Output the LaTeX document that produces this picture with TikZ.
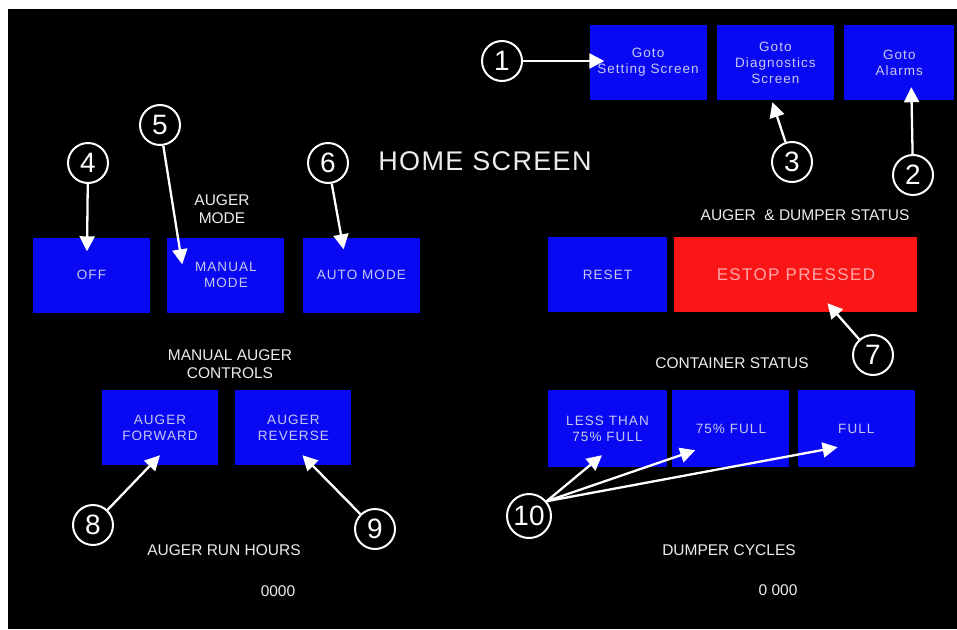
\documentclass[tikz,border=0pt]{standalone}
\usepackage{fontspec}
\setmainfont{Liberation Sans}
\newfontfamily\hmifont[LetterSpace=8]{Liberation Sans}
\newfontfamily\titlefont[LetterSpace=5]{Liberation Sans}
\usetikzlibrary{positioning}
\usetikzlibrary{arrows.meta}
\definecolor{hmiblue}{RGB}{8,8,242}
\definecolor{hmired}{RGB}{250,22,22}
\definecolor{btntext}{RGB}{200,200,238}
\definecolor{redtext}{RGB}{255,165,165}
\definecolor{lbltext}{RGB}{236,236,236}

\begin{document}
\begin{tikzpicture}[x=1pt,y=-1pt,
	btnode/.style={rectangle, fill=hmiblue, text=btntext, minimum width=117pt, minimum height=75pt, inner sep=0pt, align=center, font=\hmifont\fontsize{13.5}{16}\selectfont},
	lblnode/.style={text=lbltext, align=center, inner sep=0pt, font=\fontsize{15.5}{18}\selectfont},
	callnode/.style={circle, draw=white, fill=black, text=white, line width=2pt, minimum size=40pt, inner sep=0pt, font=\fontsize{28}{28}\selectfont},
	callarrow/.style={draw=white, line width=2.3pt, -{Triangle[length=15pt,width=15pt]}}]
	\fill[white] (0,0) rectangle (957,629);
	\fill[black] (8,9) rectangle (957,629);
	\node[btnode] (settings) at (648,62.5) {Goto\\Setting Screen};
	\node[btnode] (diag) [right=10pt of settings] {Goto\\Diagnostics\\Screen};
	\node[btnode, minimum width=110pt] (alarms) [right=10pt of diag] {Goto\\Alarms};
	\node[btnode] (off) at (91.5,275) {OFF};
	\node[btnode] (manual) [right=17pt of off] {MANUAL\\MODE};
	\node[btnode] (auto) [right=18pt of manual] {AUTO MODE};
	\node[btnode, minimum width=119pt] (reset) at (607.5,274.5) {RESET};
	\node[btnode, minimum width=243pt, fill=hmired, text=redtext, font=\hmifont\fontsize{17}{20}\selectfont] (estop) [right=7pt of reset] {ESTOP PRESSED};
	\node[btnode, minimum width=119pt, minimum height=77pt] (less) at (607.5,428.5) {LESS THAN\\75\% FULL};
	\node[btnode, minimum height=77pt] (threeq) [right=5pt of less] {75\% FULL};
	\node[btnode, minimum height=77pt] (full) [right=8pt of threeq] {FULL};
	\node[btnode, minimum width=116pt] (fwd) at (160,427.5) {AUGER\\FORWARD};
	\node[btnode, minimum width=116pt] (rev) [right=17pt of fwd] {AUGER\\REVERSE};
	\node[lblnode, font=\titlefont\fontsize{27}{30}\selectfont] (home) at (485,161) {HOME SCREEN};
	\node[lblnode] (modelbl) at (222,209) {AUGER\\MODE};
	\node[lblnode] (statuslbl) at (805,215) {AUGER\ \ \& DUMPER STATUS};
	\node[lblnode] (containerlbl) at (732,363) {CONTAINER STATUS};
	\node[lblnode] (controlslbl) at (230,364) {MANUAL AUGER\\CONTROLS};
	\node[lblnode] (hourslbl) at (224,550) {AUGER RUN HOURS};
	\node[lblnode] (hoursval) at (278,591) {0000};
	\node[lblnode] (cycleslbl) at (729,550) {DUMPER CYCLES};
	\node[lblnode] (cyclesval) at (778,590) {0 000};
	\node[callnode] (c1) at (502,61) {1};
	\node[callnode] (c2) at (913,175) {2};
	\node[callnode] (c3) at (792,162) {3};
	\node[callnode] (c4) at (88,163) {4};
	\node[callnode] (c5) at (160,125) {5};
	\node[callnode] (c6) at (328,163) {6};
	\node[callnode] (c7) at (873,355) {7};
	\node[callnode] (c8) at (93,525) {8};
	\node[callnode] (c9) at (375,529) {9};
	\node[callnode, minimum size=44pt] (c10) at (529,516) {10};
	\draw[callarrow] (c1) -- ([xshift=15pt,yshift=1.5pt]settings.west);
	\draw[callarrow] (c2) -- ([xshift=12pt,yshift=13pt]alarms.south);
	\draw[callarrow] (c3) -- ([xshift=-3pt,yshift=-2pt]diag.south);
	\draw[callarrow] (c4) -- ([xshift=-4.5pt,yshift=-14pt]off.north);
	\draw[callarrow] (c5) -- ([xshift=15pt,yshift=-27pt]manual.north west);
	\draw[callarrow] (c6) -- ([xshift=41pt,yshift=-12pt]auto.north west);
	\draw[callarrow] (c7) -- ([xshift=31.5pt,yshift=9pt]estop.south);
	\draw[callarrow] (c8) -- ([yshift=10pt]fwd.south);
	\draw[callarrow] (c9) -- ([xshift=9pt,yshift=10pt]rev.south);
	\draw[callarrow] (c10.40) -- ([xshift=-5.5pt,yshift=12pt]less.south);
	\draw[callarrow] (c10.40) -- ([xshift=23pt,yshift=17pt]threeq.south west);
	\draw[callarrow] (c10.40) -- ([xshift=40pt,yshift=20pt]full.south west);
\end{tikzpicture}
\end{document}
